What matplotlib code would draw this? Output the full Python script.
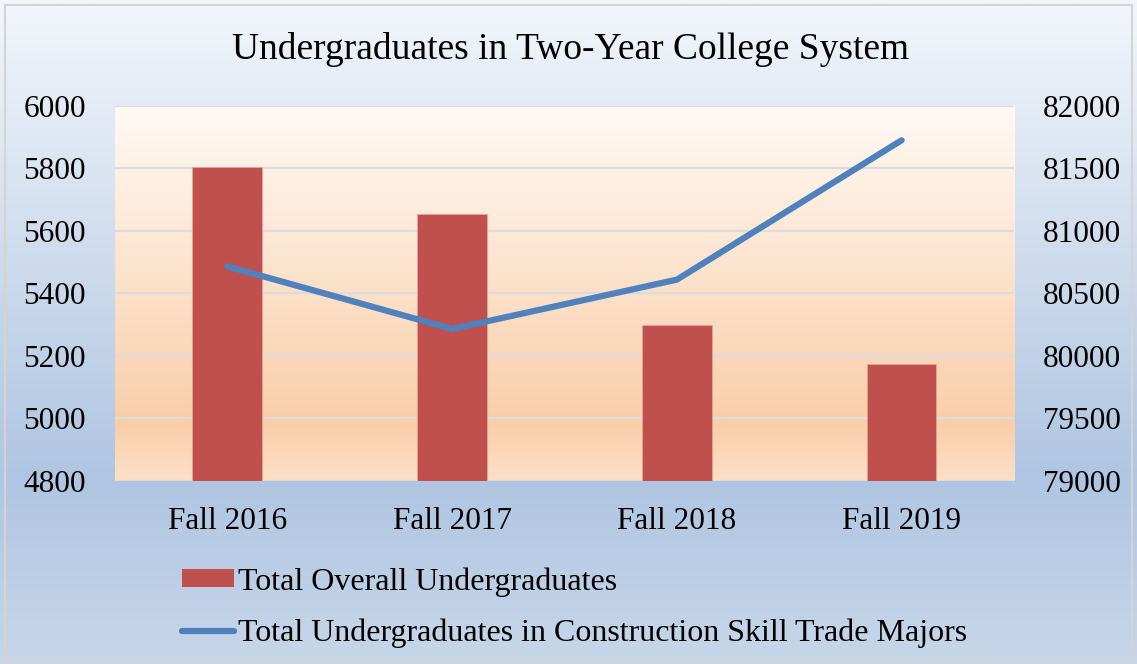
import numpy as np
import matplotlib.pyplot as plt
from matplotlib.colors import LinearSegmentedColormap
from matplotlib.patches import Rectangle
from matplotlib.lines import Line2D

# Data
categories = ['Fall 2016', 'Fall 2017', 'Fall 2018', 'Fall 2019']
overall = [5804, 5653, 5299, 5174]
construction = [80715, 80215, 80609, 81723]
left_ticks = [4800, 5000, 5200, 5400, 5600, 5800, 6000]
right_ticks = [79000, 79500, 80000, 80500, 81000, 81500, 82000]

title = 'Undergraduates in Two-Year College System'
label_bar = 'Total Overall Undergraduates'
label_line = 'Total Undergraduates in Construction Skill Trade Majors'

bar_color = '#c0504d'
line_color = '#4f81bd'

plt.rcParams['font.family'] = ['Liberation Serif', 'DejaVu Serif']

fig = plt.figure(figsize=(11.37, 6.64), dpi=100)

# Figure background gradient (light at top, steel blue lower down)
bg_cmap = LinearSegmentedColormap.from_list(
    'bg', [(0.0, '#f3f6fb'), (0.72, '#afc5e1'), (1.0, '#c8d7ea')])
bg_ax = fig.add_axes([0, 0, 1, 1], zorder=-10)
bg_ax.imshow(np.linspace(0, 1, 256).reshape(-1, 1), cmap=bg_cmap,
             aspect='auto', extent=[0, 1, 0, 1], origin='upper')
bg_ax.set_xlim(0, 1)
bg_ax.set_ylim(0, 1)
bg_ax.axis('off')
bg_ax.add_patch(Rectangle((0.004, 0.006), 0.992, 0.986, fill=False,
                          edgecolor='#d4d4d4', linewidth=1.5))

# Main axes
ax = fig.add_axes([0.1011, 0.2756, 0.7907, 0.5654])
ax.patch.set_visible(False)
plot_cmap = LinearSegmentedColormap.from_list(
    'plot', [(0.0, '#fffaf5'), (0.85, '#f9cea9'), (1.0, '#fde0c7')])
ax.imshow(np.linspace(0, 1, 256).reshape(-1, 1), cmap=plot_cmap,
          aspect='auto', extent=[0, 1, 0, 1], origin='upper',
          transform=ax.transAxes, zorder=0)

x = np.arange(len(categories))
ax.bar(x, [v - left_ticks[0] for v in overall], bottom=left_ticks[0],
       width=0.31, color=bar_color, edgecolor='#e8a29a', linewidth=0.6,
       zorder=3)
ax.set_xlim(-0.5, len(categories) - 0.5)
ax.set_ylim(left_ticks[0], left_ticks[-1])
ax.set_yticks(left_ticks)
ax.set_xticks(x)
ax.set_xticklabels(categories)
ax.yaxis.grid(True, color='#dcdcdc', linewidth=1.6, zorder=1)
ax.set_axisbelow(False)
for s in ax.spines.values():
    s.set_visible(False)
ax.tick_params(axis='both', length=0, labelsize=22.5)
ax.tick_params(axis='y', pad=21)
ax.tick_params(axis='x', pad=19)

# Secondary axis for the line
ax2 = ax.twinx()
ax2.patch.set_visible(False)
ax2.plot(x, construction, color=line_color, linewidth=4.5,
         solid_capstyle='round', solid_joinstyle='round', zorder=4)
ax2.set_ylim(right_ticks[0], right_ticks[-1])
ax2.set_yticks(right_ticks)
for s in ax2.spines.values():
    s.set_visible(False)
ax2.tick_params(axis='y', length=0, labelsize=22.5, pad=21)

fig.text(0.502, 0.925, title, ha='center', va='center', fontsize=27)

handles = [Rectangle((0, 0), 1, 1, facecolor=bar_color),
           Line2D([0], [0], color=line_color, linewidth=4.5,
                  solid_capstyle='round')]
fig.legend(handles, [label_bar, label_line], loc='upper left',
           bbox_to_anchor=(0.160, 0.146), frameon=False, fontsize=23,
           handlelength=1.63, handleheight=0.5, handletextpad=0.13,
           labelspacing=0.7, borderpad=0, borderaxespad=0)

fig.savefig('out.png', dpi=100)
